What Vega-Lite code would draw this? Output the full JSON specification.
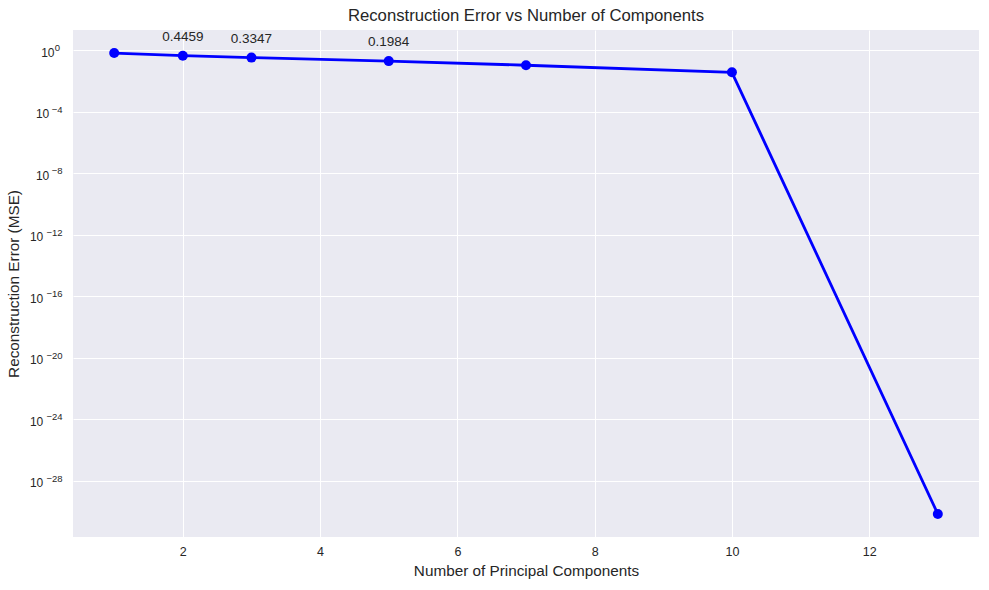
{
  "$schema": "https://vega.github.io/schema/vega-lite/v6.json",
  "autosize": {"type": "none"},
  "width": 906,
  "height": 507,
  "padding": {"left": 73, "top": 30, "right": 10, "bottom": 53},
  "background": "white",
  "config": {
    "font": "Liberation Sans",
    "view": {"fill": "#EAEAF2", "stroke": null},
    "axis": {
      "domain": false,
      "ticks": false,
      "grid": false,
      "gridColor": "white",
      "gridWidth": 1,
      "labelColor": "#262626",
      "titleColor": "#262626",
      "labelFontSize": 12.5,
      "titleFontSize": 15.3,
      "titleFontWeight": "normal",
      "labelFont": "Liberation Sans",
      "titleFont": "Liberation Sans"
    },
    "title": {"font": "Liberation Sans", "fontSize": 16.7, "fontWeight": "normal", "color": "#262626"}
  },
  "title": {"text": "Reconstruction Error vs Number of Components", "anchor": "middle", "offset": 5},
  "data": {
    "values": [
      {"n": 1, "mse": 0.66, "label": null},
      {"n": 2, "mse": 0.4459, "label": "0.4459"},
      {"n": 3, "mse": 0.3347, "label": "0.3347"},
      {"n": 5, "mse": 0.1984, "label": "0.1984"},
      {"n": 7, "mse": 0.107, "label": null},
      {"n": 10, "mse": 0.037, "label": null},
      {"n": 13, "mse": 7e-31, "label": null}
    ]
  },
  "encoding": {
    "x": {
      "field": "n",
      "type": "quantitative",
      "scale": {"domain": [0.4, 13.6], "nice": false, "zero": false},
      "axis": {"values": [2, 4, 6, 8, 10, 12], "grid": true, "title": "Number of Principal Components", "labelPadding": 8, "titlePadding": 6}
    }
  },
  "resolve": {"axis": {"y": "independent"}},
  "layer": [
    {
      "mark": {"type": "point", "opacity": 0},
      "encoding": {
        "y": {
          "field": "mse",
          "type": "quantitative",
          "scale": {"type": "log", "domain": [2.24e-32, 20.9], "nice": false},
          "axis": {
            "orient": "left",
            "values": [1e-4, 1e-8, 1e-12, 1e-16, 1e-20, 1e-24, 1e-28],
            "title": null,
            "labelFontSize": 9.5,
            "labelAlign": "right",
            "labelBaseline": "middle",
            "labelOffset": -2.5,
            "labelPadding": 11,
            "labelExpr": "'−' + toString(-round(log(datum.value)/LN10))"
          }
        }
      }
    },
    {
      "mark": {"type": "point", "opacity": 0},
      "encoding": {
        "y": {
          "field": "mse",
          "type": "quantitative",
          "scale": {"type": "log", "domain": [2.24e-32, 20.9], "nice": false},
          "axis": {
            "orient": "left",
            "values": [1, 1e-4, 1e-8, 1e-12, 1e-16, 1e-20, 1e-24, 1e-28],
            "title": null,
            "grid": true,
            "labelFontSize": 9.5,
            "labelAlign": "right",
            "labelBaseline": "middle",
            "labelOffset": -2.5,
            "labelPadding": 13.5,
            "labelExpr": "datum.value >= 0.5 ? '0' : ''"
          }
        }
      }
    },
    {
      "mark": {"type": "line", "color": "#0000FF", "strokeWidth": 2.8},
      "encoding": {
        "y": {
          "field": "mse",
          "type": "quantitative",
          "scale": {"type": "log", "domain": [2.24e-32, 20.9], "nice": false},
          "axis": {
            "orient": "left",
            "values": [1],
            "title": null,
            "labelFontSize": 12,
            "labelExpr": "'10'",
            "labelAlign": "right",
            "labelBaseline": "middle",
            "labelOffset": 2,
            "labelPadding": 19
          }
        }
      }
    },
    {
      "mark": {"type": "point", "filled": true, "color": "#0000FF", "opacity": 1, "size": 100},
      "encoding": {
        "y": {
          "field": "mse",
          "type": "quantitative",
          "scale": {"type": "log", "domain": [2.24e-32, 20.9], "nice": false},
          "axis": {
            "orient": "left",
            "values": [1e-4, 1e-8],
            "title": null,
            "labelFontSize": 12,
            "labelExpr": "'10'",
            "labelAlign": "right",
            "labelBaseline": "middle",
            "labelOffset": 2,
            "labelPadding": 24.2
          }
        }
      }
    },
    {
      "transform": [{"filter": "datum.label != null"}],
      "mark": {"type": "text", "dy": -19, "fontSize": 13.5, "color": "#262626", "font": "Liberation Sans"},
      "encoding": {
        "y": {
          "field": "mse",
          "type": "quantitative",
          "scale": {"type": "log", "domain": [2.24e-32, 20.9], "nice": false},
          "axis": {
            "orient": "left",
            "values": [1e-12, 1e-16, 1e-20, 1e-24, 1e-28],
            "title": "Reconstruction Error (MSE)",
            "titlePadding": 8,
            "labelFontSize": 12,
            "labelExpr": "'10'",
            "labelAlign": "right",
            "labelBaseline": "middle",
            "labelOffset": 2,
            "labelPadding": 30.2
          }
        },
        "text": {"field": "label"}
      }
    }
  ]
}
